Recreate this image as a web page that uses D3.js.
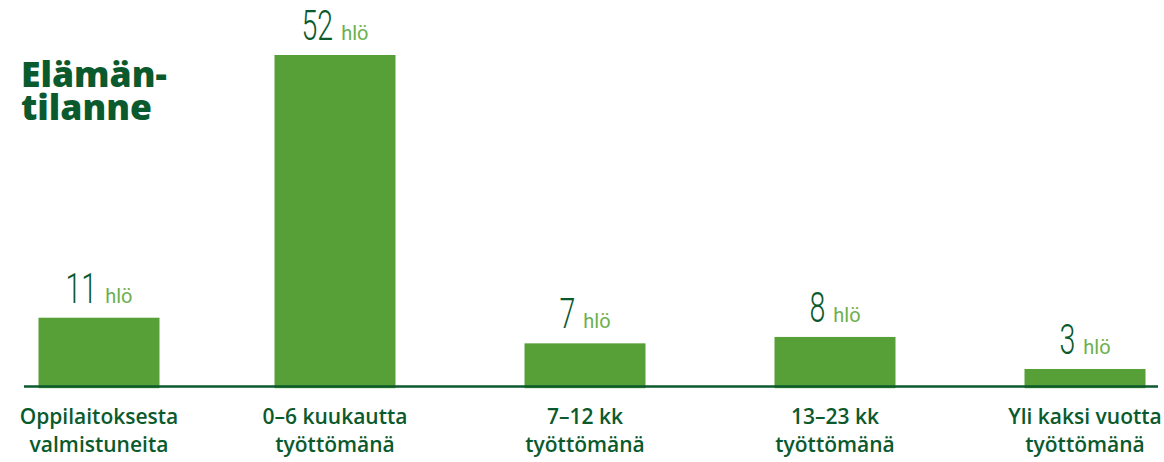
<!DOCTYPE html>
<html><head><meta charset="utf-8">
<script src="https://cdn.jsdelivr.net/npm/d3@7"></script>
<style>body{margin:0;background:#fff}svg{display:block}</style>
</head><body>
<svg id="c" width="1164" height="462"></svg>
<script>
const categories = ["Oppilaitoksesta|valmistuneita","0–6 kuukautta|työttömänä","7–12 kk|työttömänä","13–23 kk|työttömänä","Yli kaksi vuotta|työttömänä"];
const values = [11, 52, 7, 8, 3];
const unitLabel = "hlö";
const titleLines = ["Elämän-", "tilanne"];

const svg = d3.select("#c");
const dark = "#0b5a2d", barC = "#579f37", light = "#6bb04e";
const baseY = 386;
const x = d3.scaleBand().domain(categories).range([-40, 1210]).paddingInner(0.516).paddingOuter(0.258);
const nudge = (d,i) => i === 0 ? 14 : 0;
const y = d3.scaleLinear().domain([0, 52]).range([388.2, 55]);

svg.append("text").attr("x", 21).attr("y", 87).attr("fill", dark)
  .style("font-family","'Open Sans'").style("font-weight",800).style("font-size","35.5px")
  .selectAll("tspan").data(titleLines).join("tspan").attr("x",21).attr("dy",(d,i)=>i?33:0).text(d=>d);

svg.selectAll("rect.bar").data(values).join("rect").attr("class","bar")
  .attr("x",(d,i)=>x(categories[i])+nudge(d,i)).attr("width",x.bandwidth())
  .attr("y",d=>y(d)).attr("height",d=>y(0)-y(d)).attr("fill",barC);

svg.append("line").attr("x1",24).attr("x2",1158).attr("y1",baseY+0.5).attr("y2",baseY+0.5)
  .attr("stroke",dark).attr("stroke-width",2.5);

// value labels
values.forEach((v,i)=>{
  const cx = x(categories[i]) + x.bandwidth()/2 + nudge(v,i);
  const by = y(v) - 15;
  const g = svg.append("g");
  const num = g.append("text").attr("fill",dark)
    .style("font-family","Roboto").style("font-weight",300).style("font-size","42px").text(v);
  const nw = num.node().getComputedTextLength()*0.68;
  const unit = g.append("text").attr("fill",light)
    .style("font-family","Roboto").style("font-size","20px").text(unitLabel);
  const uw = unit.node().getComputedTextLength();
  const gap = 8;
  const total = nw + gap + uw;
  const x0 = cx - total/2;
  num.attr("transform",`translate(${x0},${by}) scale(0.68,1)`);
  unit.attr("x", x0 + nw + gap).attr("y", by);
});

// category labels
categories.forEach((c,i)=>{
  const cx = x(c) + x.bandwidth()/2 + nudge(c,i);
  svg.append("text").attr("text-anchor","middle").attr("fill",dark)
    .style("font-family","'Open Sans'").style("font-weight",600).style("font-size","21px")
    .selectAll("tspan").data(c.split("|")).join("tspan")
    .attr("x",cx).attr("y",(d,j)=>424+j*28).text(d=>d);
});
</script>
</body></html>
